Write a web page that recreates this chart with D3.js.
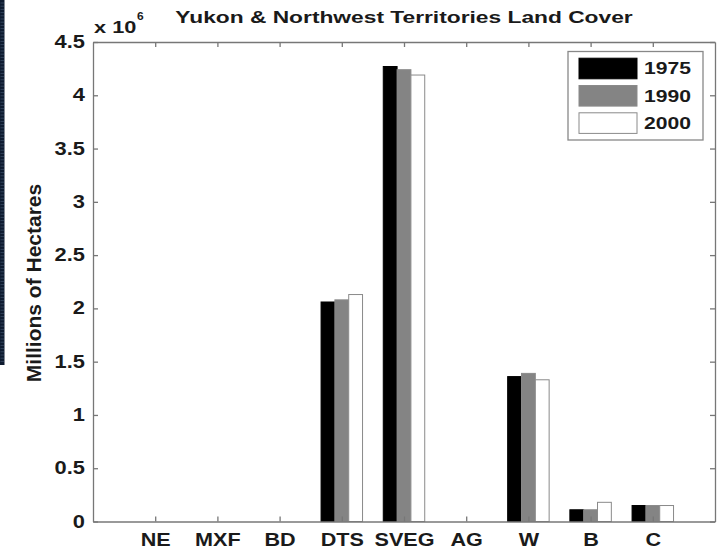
<!DOCTYPE html>
<html>
<head>
<meta charset="utf-8">
<script src="https://cdn.jsdelivr.net/npm/d3@7/dist/d3.min.js"></script>
<style>
  html, body { margin: 0; padding: 0; background: #fff; }
  svg { display: block; }
  text { font-family: "Liberation Sans", Arial, Helvetica, sans-serif; font-weight: bold; fill: #1a1a1a; }
</style>
</head>
<body>
<svg id="chart" width="725" height="555"></svg>
<script>
// Land cover classes and hectare totals (in millions) per survey year
const categories = ["NE", "MXF", "BD", "DTS", "SVEG", "AG", "W", "B", "C"];
const years = ["1975", "1990", "2000"];
const values1975 = [0, 0, 0, 2.06, 4.27, 0, 1.36, 0.11, 0.15];
const values1990 = [0, 0, 0, 2.08, 4.24, 0, 1.39, 0.11, 0.15];
const values2000 = [0, 0, 0, 2.13, 4.19, 0, 1.33, 0.18, 0.15];
const yTicks = [0, 0.5, 1, 1.5, 2, 2.5, 3, 3.5, 4, 4.5];
const yTickLabels = ["0", "0.5", "1", "1.5", "2", "2.5", "3", "3.5", "4", "4.5"];
const seriesFill = ["#000000", "#848484", "#ffffff"];

const series = [values1975, values1990, values2000];

const svg = d3.select("#chart");

// Plot frame
const plotL = 93, plotR = 715, plotT = 42, plotB = 521.5;
const x = d3.scaleLinear().domain([0, categories.length + 1]).range([plotL, plotR]);
const y = d3.scaleLinear().domain([0, 4.5]).range([plotB, plotT]);

// Grouped bars: three adjacent bars occupying 2/3 of each category slot
const groupWidth = 2 / 3;
const barW = groupWidth / years.length;

// dark strip along the left edge
svg.append("rect").attr("x", 0).attr("y", 0).attr("width", 4.5).attr("height", 365).attr("fill", "#0e1b30");
const stripLines = d3.range(3, 362, 3.2);
svg.append("g").selectAll("line").data(stripLines).join("line")
  .attr("x1", 0.5).attr("x2", 4).attr("y1", d => d).attr("y2", d => d)
  .attr("stroke", "#3a4c66").attr("stroke-width", 0.8);

// Horizontally stretched text helper
function stext(parent, tx, ty, str, size, sx, anchor) {
  const g = parent.append("g").attr("transform", `translate(${tx},${ty}) scale(${sx},1)`);
  return g.append("text").attr("font-size", size).attr("text-anchor", anchor || "start").text(str);
}

const axisColor = "#777";

// Bars
const barsG = svg.append("g");
series.forEach((vals, si) => {
  barsG.append("g").selectAll("rect")
    .data(vals.map((v, i) => ({ v, i })).filter(d => d.v > 0))
    .join("rect")
    .attr("x", d => x(d.i + 1 - groupWidth / 2 + si * barW))
    .attr("width", d => x(barW) - x(0))
    .attr("y", d => y(d.v))
    .attr("height", d => y(0) - y(d.v))
    .attr("fill", seriesFill[si])
    .attr("stroke", si === 0 ? "#000" : "#8a8a8a")
    .attr("stroke-width", 1);
});

// Axes (ticks pointing inward on all four sides)
const catTicks = d3.range(1, categories.length + 1);
const tickSX = 1.25;

const yAxis = svg.append("g").attr("transform", `translate(${plotL},0)`)
  .call(d3.axisLeft(y).tickValues(yTicks).tickFormat((d, i) => yTickLabels[i])
    .tickSizeInner(-5).tickSizeOuter(0).tickPadding(8));
yAxis.selectAll("text")
  .attr("font-size", 17.5)
  .attr("x", -8 / tickSX).attr("transform", `scale(${tickSX},1)`);

const xAxis = svg.append("g").attr("transform", `translate(0,${plotB})`)
  .call(d3.axisBottom(x).tickValues(catTicks).tickFormat(d => categories[d - 1])
    .tickSizeInner(-5).tickSizeOuter(0).tickPadding(12));
xAxis.selectAll("text")
  .attr("font-size", 18)
  .attr("transform", `scale(1.2,1)`);

svg.append("g").attr("transform", `translate(0,${plotT})`)
  .call(d3.axisTop(x).tickValues(catTicks).tickFormat("").tickSizeInner(-5).tickSizeOuter(0));
svg.append("g").attr("transform", `translate(${plotR},0)`)
  .call(d3.axisRight(y).tickValues(yTicks).tickFormat("").tickSizeInner(-5).tickSizeOuter(0));

svg.selectAll(".domain, .tick line").attr("stroke", axisColor).attr("stroke-width", 1.3);
svg.selectAll(".tick text").attr("font-family", null).attr("fill", "#1a1a1a");

// Exponent label
stext(svg, 94, 32.5, "x 10", 16.5, 1.32, "start");
stext(svg, 137, 19.5, "6", 10, 1.2, "start");

// Title
stext(svg, 404, 22.5, "Yukon & Northwest Territories Land Cover", 16.5, 1.38, "middle");

// Y axis label
svg.append("text")
  .attr("transform", "translate(41,283) rotate(-90)")
  .attr("font-size", 21).attr("text-anchor", "middle")
  .text("Millions of Hectares");

// Legend
const lg = svg.append("g");
lg.append("rect").attr("x", 568).attr("y", 51.5).attr("width", 135).attr("height", 88.5)
  .attr("fill", "#fff").attr("stroke", "#888").attr("stroke-width", 1.3);
years.forEach((yr, i) => {
  const cy = 68.5 + i * 27.3;
  lg.append("rect").attr("x", 579).attr("y", cy - 10.3).attr("width", 58).attr("height", 20.6)
    .attr("fill", seriesFill[i]).attr("stroke", i === 0 ? "#000" : "#8a8a8a").attr("stroke-width", 1);
  stext(lg, 644, cy + 5.8, yr, 16, 1.32, "start");
});
</script>
</body>
</html>
